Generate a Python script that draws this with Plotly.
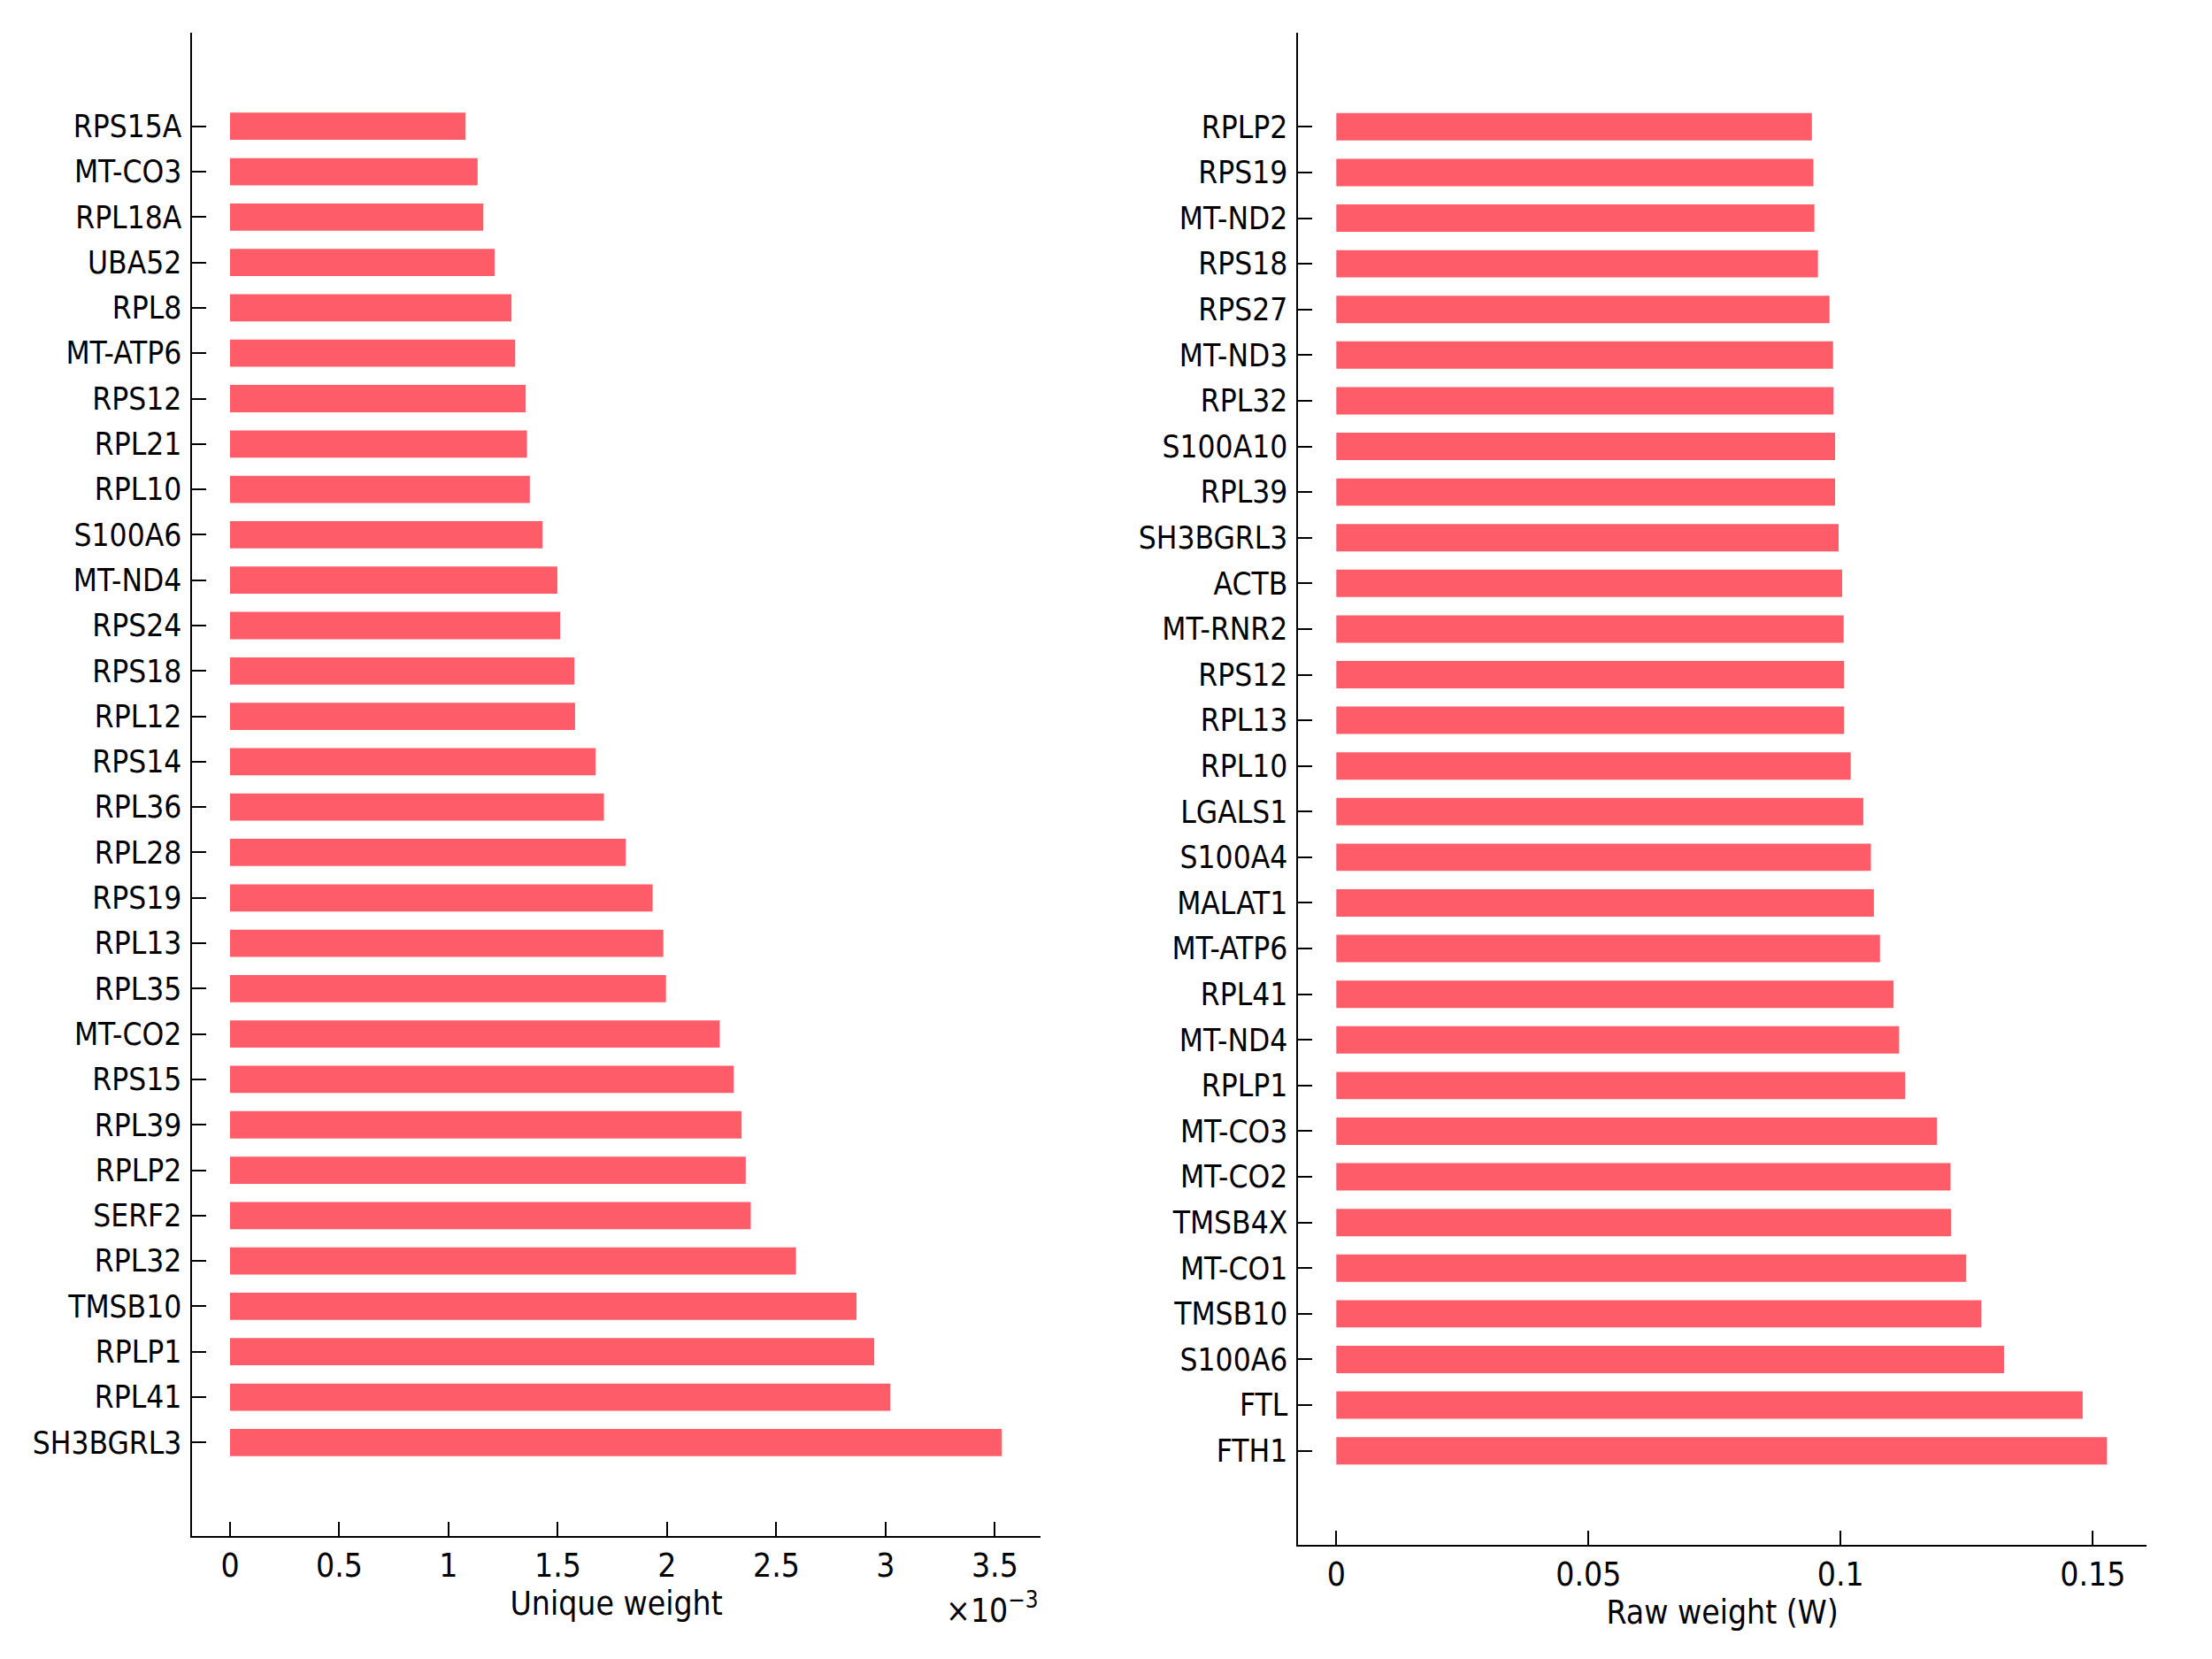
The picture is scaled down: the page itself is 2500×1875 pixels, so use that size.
import plotly.graph_objects as go

left_genes = ["RPS15A", "MT-CO3", "RPL18A", "UBA52", "RPL8", "MT-ATP6", "RPS12", "RPL21",
              "RPL10", "S100A6", "MT-ND4", "RPS24", "RPS18", "RPL12", "RPS14", "RPL36",
              "RPL28", "RPS19", "RPL13", "RPL35", "MT-CO2", "RPS15", "RPL39", "RPLP2",
              "SERF2", "RPL32", "TMSB10", "RPLP1", "RPL41", "SH3BGRL3"]
left_values = [1.078e-3, 1.133e-3, 1.159e-3, 1.211e-3, 1.288e-3, 1.305e-3, 1.353e-3, 1.359e-3,
               1.372e-3, 1.430e-3, 1.498e-3, 1.511e-3, 1.576e-3, 1.579e-3, 1.673e-3, 1.711e-3,
               1.811e-3, 1.934e-3, 1.983e-3, 1.995e-3, 2.241e-3, 2.305e-3, 2.341e-3, 2.360e-3,
               2.383e-3, 2.590e-3, 2.867e-3, 2.948e-3, 3.022e-3, 3.532e-3]

right_genes = ["RPLP2", "RPS19", "MT-ND2", "RPS18", "RPS27", "MT-ND3", "RPL32", "S100A10",
               "RPL39", "SH3BGRL3", "ACTB", "MT-RNR2", "RPS12", "RPL13", "RPL10", "LGALS1",
               "S100A4", "MALAT1", "MT-ATP6", "RPL41", "MT-ND4", "RPLP1", "MT-CO3", "MT-CO2",
               "TMSB4X", "MT-CO1", "TMSB10", "S100A6", "FTL", "FTH1"]
right_values = [0.0943, 0.0946, 0.0948, 0.0955, 0.0978, 0.0985, 0.0986, 0.0989,
                0.0989, 0.0996, 0.1003, 0.1006, 0.1007, 0.1007, 0.1020, 0.1045,
                0.1060, 0.1066, 0.1078, 0.1105, 0.1116, 0.1128, 0.1191, 0.1218,
                0.1219, 0.1249, 0.1279, 0.1324, 0.1480, 0.1528]

left_ticks = [0, 0.5e-3, 1e-3, 1.5e-3, 2e-3, 2.5e-3, 3e-3, 3.5e-3]
left_ticktext = ["0", "0.5", "1", "1.5", "2", "2.5", "3", "3.5"]
right_ticks = [0, 0.05, 0.1, 0.15]
right_ticktext = ["0", "0.05", "0.1", "0.15"]

BAR = "#ff5c69"
FONT = "DejaVu Sans Condensed, DejaVu Sans, sans-serif"
FS = 35
FSX = 37

fig = go.Figure()
fig.add_trace(go.Bar(x=left_values, y=left_genes, orientation="h", marker_color=BAR,
                     marker_line_width=0, width=0.6, xaxis="x", yaxis="y", showlegend=False))
fig.add_trace(go.Bar(x=right_values, y=right_genes, orientation="h", marker_color=BAR,
                     marker_line_width=0, width=0.6, xaxis="x2", yaxis="y2", showlegend=False))

axis_common = dict(showline=True, linecolor="black", linewidth=1.5, ticks="inside",
                   ticklen=16, tickwidth=1.5, tickcolor="black", showgrid=False,
                   zeroline=False)
yfont = dict(family=FONT, size=FS, color="black")
xfont = dict(family=FONT, size=FSX, color="black")

fig.update_layout(
    width=2500, height=1875,
    margin=dict(l=0, r=0, t=0, b=0),
    paper_bgcolor="white", plot_bgcolor="white",
    font=dict(family=FONT, size=FS, color="black"),
    xaxis=dict(domain=[0.0836, 0.4673], anchor="y", range=[-0.174e-3, 3.710e-3],
               tickvals=left_ticks, ticktext=left_ticktext, tickfont=xfont,
               title=dict(text="Unique weight", font=dict(family=FONT, size=FSX), standoff=4),
               **axis_common),
    yaxis=dict(domain=[0.0784, 0.9845], anchor="x", type="category",
               categoryorder="array", categoryarray=left_genes, tickfont=yfont,
               range=[31.06, -2.06], ticklabelstandoff=3, **axis_common),
    xaxis2=dict(domain=[0.5836, 0.9673], anchor="y2", range=[-0.0076, 0.1607],
                tickvals=right_ticks, ticktext=right_ticktext, tickfont=xfont,
                title=dict(text="Raw weight (W)", font=dict(family=FONT, size=FSX), standoff=4),
                **axis_common),
    yaxis2=dict(domain=[0.0731, 0.9845], anchor="x2", type="category",
                categoryorder="array", categoryarray=right_genes, tickfont=yfont,
                range=[31.06, -2.06], ticklabelstandoff=3, **axis_common),
    annotations=[dict(text="×10<sup>−3</sup>", xref="paper", yref="paper",
                      x=0.4673, y=1 - 1809 / 1875, xanchor="right", yanchor="middle",
                      showarrow=False, font=dict(family=FONT, size=FSX, color="black"))],
)

fig.write_html("out.html")
